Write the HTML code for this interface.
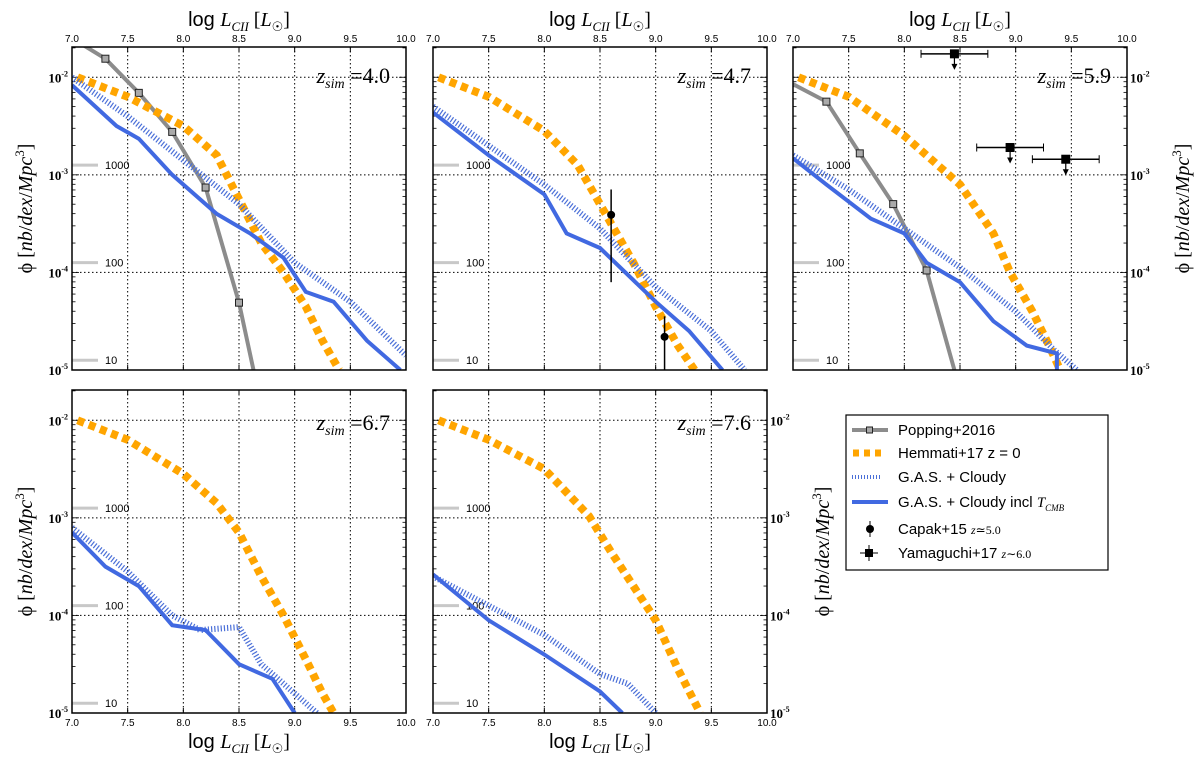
<!DOCTYPE html>
<html><head><meta charset="utf-8"><style>
body{margin:0;background:#fff;}
svg{display:block;font-family:"Liberation Sans",sans-serif;}
.m{font-family:"Liberation Serif",serif;font-style:italic;}
</style></head><body>
<svg id="chart" width="1200" height="758" viewBox="0 0 1200 758" xmlns="http://www.w3.org/2000/svg"></svg>
<script>
const xTicks=[7.0,7.5,8.0,8.5,9.0,9.5,10.0];
const yTicks=[-2,-3,-4,-5];
const refLabels=["1000","100","10"];
const refValues=[-2.9,-3.9,-4.9];
const zLabels=["4.0","4.7","5.9","6.7","7.6"];
const popX1=[7.0,7.3,7.6,7.9,8.2,8.5,8.63];
const popY1=[-1.6,-1.81,-2.16,-2.56,-3.13,-4.31,-5.0];
const popX3=[7.0,7.3,7.6,7.9,8.2,8.45];
const popY3=[-2.07,-2.25,-2.78,-3.3,-3.98,-5.0];
const hemX1=[7.05,7.5,8.0,8.3,8.5,8.7,8.9,9.1,9.25,9.4];
const hemY1=[-2.0,-2.2,-2.5,-2.8,-3.25,-3.7,-4.0,-4.35,-4.7,-5.0];
const hemX2=[7.05,7.5,8.0,8.3,8.6,8.8,9.0,9.2,9.35];
const hemY2=[-2.0,-2.2,-2.55,-2.9,-3.5,-3.9,-4.35,-4.75,-5.0];
const hemX3=[7.05,7.5,8.0,8.5,8.8,8.95,9.15,9.3,9.4];
const hemY3=[-2.0,-2.2,-2.6,-3.1,-3.6,-4.0,-4.4,-4.75,-5.0];
const hemX4=[7.05,7.5,8.0,8.3,8.5,8.7,8.9,9.1,9.25,9.35];
const hemY4=[-2.0,-2.2,-2.55,-2.85,-3.15,-3.6,-4.0,-4.45,-4.8,-5.0];
const hemX5=[7.05,7.5,8.0,8.4,8.6,8.8,9.0,9.2,9.4];
const hemY5=[-2.0,-2.2,-2.5,-2.98,-3.35,-3.7,-4.05,-4.55,-5.0];
const gasX1=[7.0,7.5,8.0,8.5,9.0,9.5,10.0];
const gasY1=[-2.0,-2.4,-2.85,-3.3,-3.9,-4.3,-4.85];
const gasX2=[7.0,7.5,8.0,8.5,9.0,9.5,9.8];
const gasY2=[-2.3,-2.7,-3.1,-3.55,-4.15,-4.6,-5.0];
const gasX3=[7.0,7.5,8.0,8.5,9.0,9.35,9.55];
const gasY3=[-2.8,-3.15,-3.55,-3.95,-4.4,-4.8,-5.0];
const gasX4=[7.0,7.5,7.9,8.15,8.5,8.7,9.0,9.2];
const gasY4=[-3.1,-3.55,-4.0,-4.15,-4.12,-4.5,-4.8,-5.0];
const gasX5=[7.0,7.5,8.0,8.5,8.75,9.0];
const gasY5=[-3.6,-3.9,-4.2,-4.6,-4.7,-5.0];
const cmbX1=[7.0,7.4,7.6,7.9,8.3,8.6,8.9,9.1,9.35,9.65,9.95];
const cmbY1=[-2.08,-2.5,-2.63,-3.0,-3.4,-3.6,-3.85,-4.2,-4.3,-4.7,-5.0];
const cmbX2=[7.0,7.5,8.0,8.2,8.5,9.0,9.3,9.6];
const cmbY2=[-2.36,-2.8,-3.2,-3.6,-3.75,-4.3,-4.6,-5.0];
const cmbX3=[7.0,7.3,7.7,8.0,8.2,8.5,8.8,9.1,9.37,9.37];
const cmbY3=[-2.83,-3.1,-3.45,-3.6,-3.9,-4.1,-4.5,-4.75,-4.83,-5.0];
const cmbX4=[7.0,7.3,7.6,7.9,8.2,8.5,8.8,9.0];
const cmbY4=[-3.15,-3.5,-3.7,-4.1,-4.15,-4.5,-4.65,-5.0];
const cmbX5=[7.0,7.5,8.0,8.5,8.7];
const cmbY5=[-3.58,-4.05,-4.4,-4.78,-5.0];
const capakX=[8.6,9.08];
const capakY=[-3.41,-4.66];
const capakLo=[-4.1,-5.0];
const capakHi=[-3.15,-4.45];
const yamX=[8.45,8.95,9.45];
const yamY=[-1.76,-2.72,-2.84];
const yamXerr=[0.3,0.3,0.3];

const NS="http://www.w3.org/2000/svg";
const svg=document.getElementById('chart');
function mk(tag,attrs,parent){const e=document.createElementNS(NS,tag);for(const k in attrs)e.setAttribute(k,attrs[k]);(parent||svg).appendChild(e);return e;}
const panels=[
 {x0:72,y0:47,top:true,left:true,right:false,bottom:false},
 {x0:433,y0:47,top:true,left:false,right:false,bottom:false},
 {x0:793,y0:47,top:true,left:false,right:true,bottom:false},
 {x0:72,y0:390,top:false,left:true,right:false,bottom:true},
 {x0:433,y0:390,top:false,left:false,right:true,bottom:true}];
const W=334,H=323,YMIN=-5,YMAX=-1.69;
const series=[
 {pop:[popX1,popY1],hem:[hemX1,hemY1],gas:[gasX1,gasY1],cmb:[cmbX1,cmbY1]},
 {hem:[hemX2,hemY2],gas:[gasX2,gasY2],cmb:[cmbX2,cmbY2]},
 {pop:[popX3,popY3],hem:[hemX3,hemY3],gas:[gasX3,gasY3],cmb:[cmbX3,cmbY3]},
 {hem:[hemX4,hemY4],gas:[gasX4,gasY4],cmb:[cmbX4,cmbY4]},
 {hem:[hemX5,hemY5],gas:[gasX5,gasY5],cmb:[cmbX5,cmbY5]}];
function axTitleX(g,x,y){const t=mk('text',{x:x,y:y,'text-anchor':'middle','font-size':20},g);
 t.innerHTML='log <tspan class="m" font-family="Liberation Serif">L</tspan><tspan class="m" font-size="13" dy="5">CII</tspan><tspan dy="-5" font-family="Liberation Serif"> [</tspan><tspan class="m" font-family="Liberation Serif">L</tspan><tspan font-size="13" dy="5">☉</tspan><tspan dy="-5" font-family="Liberation Serif">]</tspan>';return t;}
function yTitle(g,x,y,rot){const t=mk('text',{x:0,y:0,'text-anchor':'middle','font-size':20,'font-family':'Liberation Serif',transform:`translate(${x},${y}) rotate(${rot})`},g);
 t.innerHTML='ϕ [<tspan font-style="italic">nb</tspan>/<tspan font-style="italic">dex</tspan>/<tspan font-style="italic">Mpc</tspan><tspan font-size="13" dy="-8">3</tspan><tspan dy="8">]</tspan>';return t;}
panels.forEach((p,i)=>{
 const g=mk('g',{});
 
 
 const X=v=>p.x0+(v-7)/3*W, Y=v=>p.y0+(YMAX-v)/(YMAX-YMIN)*H;
 const cid='c'+i;
 const cp=mk('clipPath',{id:cid},g);mk('rect',{x:p.x0,y:p.y0,width:W,height:H},cp);
 xTicks.slice(1,-1).forEach(v=>{const l=mk('line',{x1:X(v),x2:X(v),y1:p.y0,y2:p.y0+H,stroke:'#000','stroke-width':1,'stroke-dasharray':'1.5,2.5'},g);});
 yTicks.slice(0,3).forEach(v=>{const l=mk('line',{x1:p.x0,x2:p.x0+W,y1:Y(v),y2:Y(v),stroke:'#000','stroke-width':1,'stroke-dasharray':'1.5,2.5'},g);});
 xTicks.forEach(v=>{mk('line',{x1:X(v),x2:X(v),y1:p.y0,y2:p.y0+5,stroke:'#000'},g);mk('line',{x1:X(v),x2:X(v),y1:p.y0+H,y2:p.y0+H-5,stroke:'#000'},g);
  if(p.top||p.bottom){const t=mk('text',{x:X(v),y:p.top?p.y0-5:p.y0+H+13,'text-anchor':'middle','font-size':10},g);t.textContent=v.toFixed(1);}});
 for(let d=-5;d<-1;d++){for(let k=1;k<10;k++){const v=d+Math.log10(k);if(v>YMAX)continue;const len=k==1?7:3.5;
  mk('line',{x1:p.x0,x2:p.x0+len,y1:Y(v),y2:Y(v),stroke:'#000','stroke-width':0.8},g);mk('line',{x1:p.x0+W,x2:p.x0+W-len,y1:Y(v),y2:Y(v),stroke:'#000','stroke-width':0.8},g);}}
 yTicks.forEach(v=>{if(p.left||p.right){const t=mk('text',{x:p.left?p.x0-4:p.x0+W+3,y:Y(v)+5,'text-anchor':p.left?'end':'start','font-size':13,'font-weight':'bold','font-family':'Liberation Serif'},g);
  t.innerHTML='10<tspan font-size="8" dy="-6">'+v+'</tspan>';}});
 refValues.forEach((v,j)=>{mk('line',{x1:p.x0,x2:p.x0+26,y1:Y(v),y2:Y(v),stroke:'#c8c8c8','stroke-width':3},g);
  const t=mk('text',{x:p.x0+33,y:Y(v)+4,'font-size':11},g);t.textContent=refLabels[j];});
 const pc=mk('g',{'clip-path':`url(#${cid})`},g);
 const path=(xs,ys)=>xs.map((x,k)=>(k?'L':'M')+X(x).toFixed(1)+','+Y(ys[k]).toFixed(1)).join('');
 const s=series[i];
 if(s.pop){const e=mk('path',{d:path(...s.pop),fill:'none',stroke:'#8c8c8c','stroke-width':4},pc);
  s.pop[0].forEach((x,k)=>{if(k>0&&k<s.pop[0].length-1){const r=mk('rect',{x:X(x)-3.5,y:Y(s.pop[1][k])-3.5,width:7,height:7,fill:'#aaa',stroke:'#222','stroke-width':1},pc);}});}
 {const e=mk('path',{d:path(...s.hem),fill:'none',stroke:'#ffa500','stroke-width':8,'stroke-dasharray':'7,5'},pc);}
 {const e=mk('path',{d:path(...s.gas),fill:'none',stroke:'#4a6fd8','stroke-width':6,'stroke-dasharray':'1.2,2'},pc);}
 {const e=mk('path',{d:path(...s.cmb),fill:'none',stroke:'#4169e1','stroke-width':4},pc);}
 if(i==1){capakX.forEach((x,k)=>{mk('line',{x1:X(x),x2:X(x),y1:Y(capakLo[k]),y2:Y(capakHi[k]),stroke:'#000','stroke-width':1.5},pc);
  const c=mk('circle',{cx:X(x),cy:Y(capakY[k]),r:4,fill:'#000'},pc);});}
 if(i==2){yamX.forEach((x,k)=>{const xx=X(x),yy=Y(yamY[k]);
  mk('line',{x1:X(x-yamXerr[k]),x2:X(x+yamXerr[k]),y1:yy,y2:yy,stroke:'#000','stroke-width':1.5},pc);
  mk('line',{x1:X(x-yamXerr[k]),x2:X(x-yamXerr[k]),y1:yy-4,y2:yy+4,stroke:'#000'},pc);
  mk('line',{x1:X(x+yamXerr[k]),x2:X(x+yamXerr[k]),y1:yy-4,y2:yy+4,stroke:'#000'},pc);
  mk('line',{x1:xx,x2:xx,y1:yy,y2:yy+13,stroke:'#000','stroke-width':1.2},pc);
  mk('path',{d:`M${xx-3},${yy+10}L${xx+3},${yy+10}L${xx},${yy+16}Z`,fill:'#000'},pc);
  const r=mk('rect',{x:xx-4.5,y:yy-4.5,width:9,height:9,fill:'#000'},pc);});}
 const fr=mk('rect',{x:p.x0,y:p.y0,width:W,height:H,fill:'none',stroke:'#000','stroke-width':1.5},g);
 const zt=mk('text',{x:p.x0+W-16,y:p.y0+(p.top?36:40),'text-anchor':'end','font-size':22,'font-family':'Liberation Serif',fill:'#000'},g);
 zt.innerHTML='<tspan font-style="italic">z</tspan><tspan font-style="italic" font-size="14" dy="5">sim</tspan><tspan dy="-5"> =</tspan>'+zLabels[i];
 
 if(p.top){const t=axTitleX(g,p.x0+W/2,p.y0-21);}
 if(p.bottom){const t=axTitleX(g,p.x0+W/2,p.y0+H+35);}
 if(p.left){const t=yTitle(g,p.x0-40,p.y0+H/2,-90);}
 if(p.right){const t=yTitle(g,p.x0+W+62,p.y0+H/2,-90);}
});
const lg=mk('g',{});


mk('rect',{x:846,y:415,width:262,height:155,fill:'#fff',stroke:'#000','stroke-width':1.2},lg);
const rows=[430,453,477,502,529,553];
const names=['Popping+2016','Hemmati+17 z = 0','G.A.S. + Cloudy','G.A.S. + Cloudy incl <tspan font-family="Liberation Serif" font-style="italic">T</tspan><tspan font-family="Liberation Serif" font-style="italic" font-size="9" dy="4">CMB</tspan>','Capak+15 <tspan font-family="Liberation Serif" font-style="italic" font-size="12">z</tspan><tspan font-family="Liberation Serif" font-size="12">≃5.0</tspan>','Yamaguchi+17 <tspan font-family="Liberation Serif" font-style="italic" font-size="12">z</tspan><tspan font-family="Liberation Serif" font-size="12">∼6.0</tspan>'];
const keys=['legend-popping','legend-hemmati','legend-gas-cloudy','legend-gas-cloudy-cmb','legend-capak','legend-yamaguchi'];
rows.forEach((y,k)=>{const e=mk('g',{},lg);
 if(k==0){mk('line',{x1:852,x2:888,y1:y,y2:y,stroke:'#8c8c8c','stroke-width':4},e);mk('rect',{x:866.5,y:y-3,width:6,height:6,fill:'#aaa',stroke:'#222'},e);}
 if(k==1)mk('line',{x1:853,x2:884,y1:y,y2:y,stroke:'#ffa500','stroke-width':7,'stroke-dasharray':'6,5'},e);
 if(k==2)mk('line',{x1:852,x2:882,y1:y,y2:y,stroke:'#4a6fd8','stroke-width':4,'stroke-dasharray':'1,2'},e);
 if(k==3)mk('line',{x1:852,x2:888,y1:y,y2:y,stroke:'#4169e1','stroke-width':4},e);
 if(k==4){mk('line',{x1:870,x2:870,y1:y-8,y2:y+8,stroke:'#000'},e);mk('circle',{cx:870,cy:y,r:4,fill:'#000'},e);}
 if(k==5){mk('line',{x1:860,x2:878,y1:y,y2:y,stroke:'#000'},e);mk('line',{x1:869,x2:869,y1:y-8,y2:y+8,stroke:'#000'},e);mk('rect',{x:865,y:y-4,width:8,height:8,fill:'#000'},e);}
 const t=mk('text',{x:898,y:y+5,'font-size':15},e);t.innerHTML=names[k];});
</script>
</body></html>
